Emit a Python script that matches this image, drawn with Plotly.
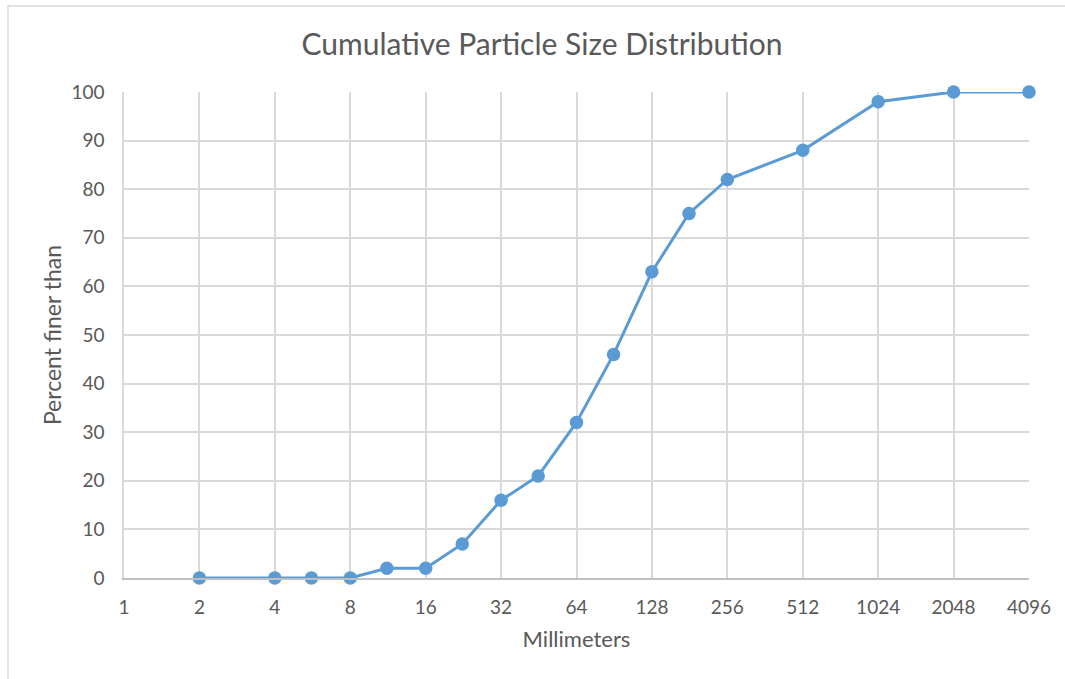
import math
import plotly.graph_objects as go

# Data
sizes_mm = [2, 4, 5.6, 8, 11.2, 16, 22.4, 32, 45, 64, 90, 128, 180, 256, 512, 1024, 2048, 4096]
percent_finer = [0, 0, 0, 0, 2, 2, 7, 16, 21, 32, 46, 63, 75, 82, 88, 98, 100, 100]
x_tick_vals = [1, 2, 4, 8, 16, 32, 64, 128, 256, 512, 1024, 2048, 4096]
x_tick_text = [str(v) for v in x_tick_vals]
y_tick_vals = list(range(0, 101, 10))

W, H = 1065, 679
L, R, T, B = 124, 1029, 92, 578

FONT = "Lato, Carlito, Calibri, 'Open Sans', sans-serif"
TXT = "#595959"
GRID = "#D9D9D9"

fig = go.Figure()
fig.add_trace(go.Scatter(
    x=sizes_mm, y=percent_finer, mode="lines+markers",
    line=dict(color="#5B9BD5", width=3),
    marker=dict(color="#5B9BD5", size=13.5),
    showlegend=False, cliponaxis=False,
))

def px_to_paper_x(px):
    return (px - L) / (R - L)

def px_to_paper_y(py):
    return (B - py) / (B - T)

fig.add_shape(type="rect", xref="paper", yref="paper",
              x0=px_to_paper_x(8), x1=px_to_paper_x(1075),
              y0=px_to_paper_y(690), y1=px_to_paper_y(6),
              line=dict(color="#D9D9D9", width=1.5), fillcolor="rgba(0,0,0,0)",
              layer="below")

fig.update_layout(
    width=W, height=H,
    margin=dict(l=L, r=W - R, t=T, b=H - B, pad=0),
    paper_bgcolor="white", plot_bgcolor="white",
    font=dict(family=FONT, color=TXT, size=19),
    title=dict(text="Cumulative Particle Size Distribution",
               x=542 / W, xanchor="center",
               y=1 - 44 / H, yanchor="middle",
               font=dict(size=30, color=TXT, family=FONT)),
    xaxis=dict(type="log", range=[0, math.log10(4096)],
               tickvals=x_tick_vals, ticktext=x_tick_text,
               showgrid=True, gridcolor=GRID, gridwidth=1.5,
               zeroline=False, showline=True, linecolor="#BFBFBF", linewidth=1.5,
               ticks="outside", ticklen=11, tickcolor="rgba(0,0,0,0)",
               tickfont=dict(size=19, color=TXT),
               title=dict(text="Millimeters", font=dict(size=22, color=TXT), standoff=15)),
    yaxis=dict(range=[0, 100], tickvals=y_tick_vals,
               showgrid=True, gridcolor=GRID, gridwidth=1.5,
               zeroline=False, showline=True, linecolor=GRID, linewidth=1.5,
               ticks="outside", ticklen=14, tickcolor="rgba(0,0,0,0)",
               tickfont=dict(size=19, color=TXT),
               title=dict(text="Percent finer than", font=dict(size=23, color=TXT), standoff=3)),
)

fig.write_html("out.html")
